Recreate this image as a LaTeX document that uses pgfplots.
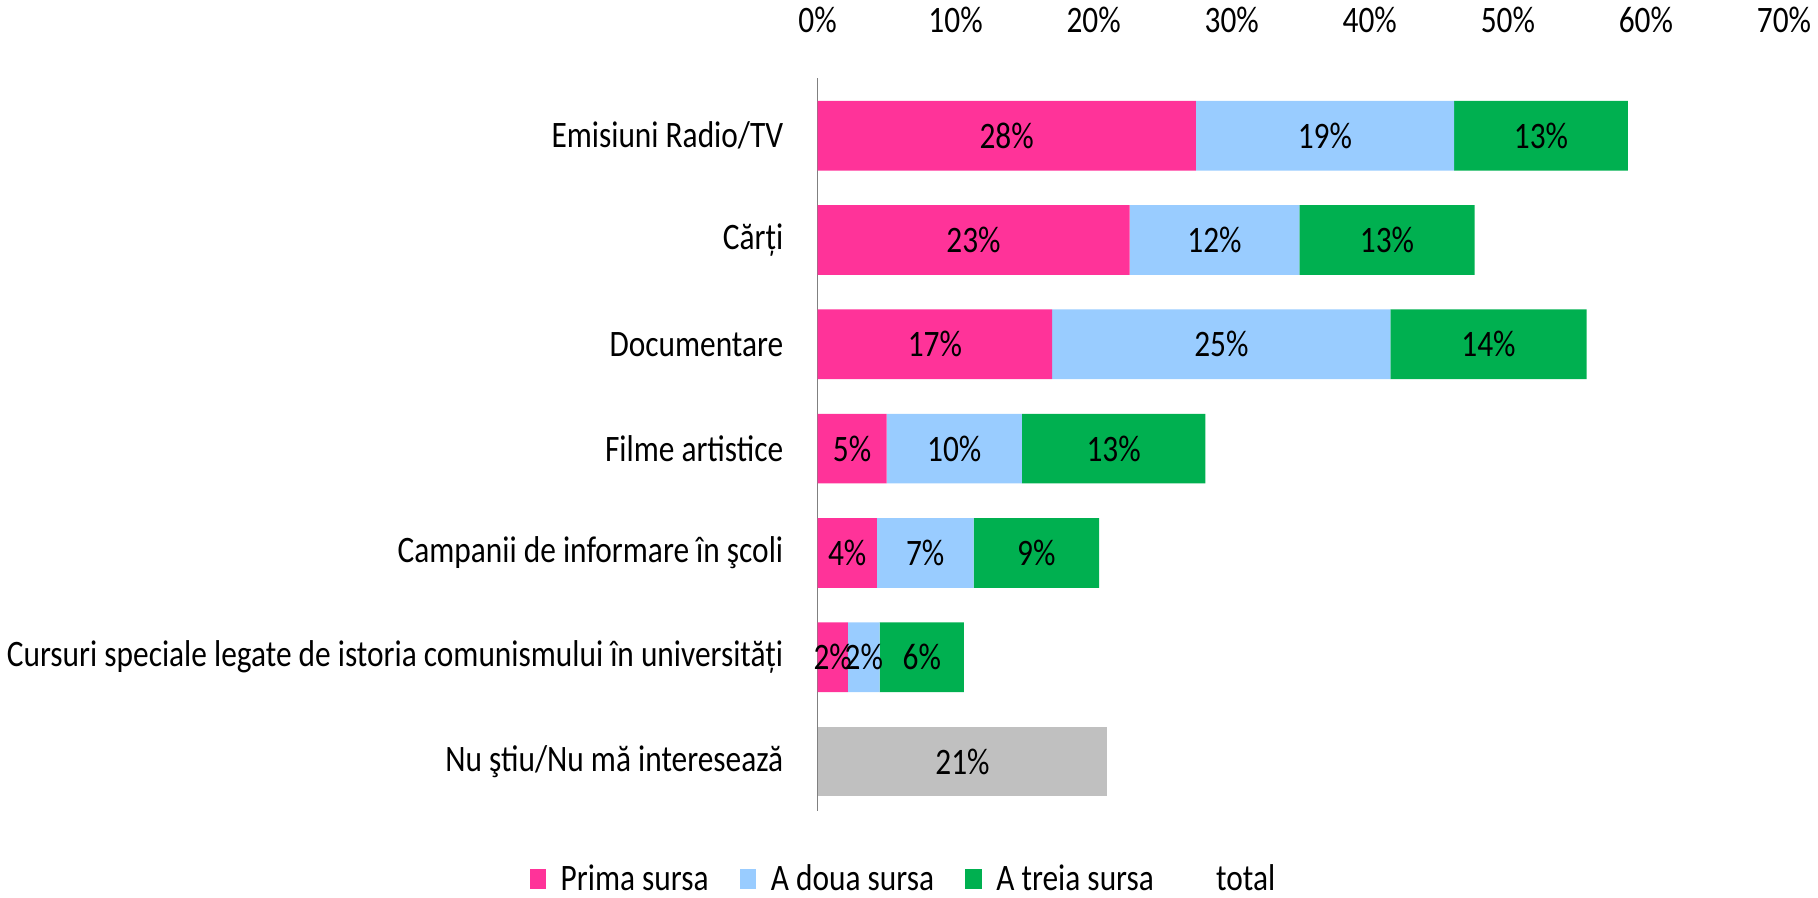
\documentclass[border=0pt]{standalone}
\usepackage{fontspec}
\setmainfont{Carlito}[FakeStretch=0.84]
\usepackage{pgfplots}
\usepackage{pgfplotstable}
\pgfplotsset{compat=1.18}

\definecolor{cpink}{HTML}{FF3399}
\definecolor{cblue}{HTML}{99CCFF}
\definecolor{cgreen}{HTML}{00B050}
\definecolor{cgray}{HTML}{C0C0C0}

% row, prima, a doua, a treia, rounded labels
\pgfplotstableread{
row p    b    g    pl bl gl
1   27.4 18.7 12.6 28 19 13
2   22.6 12.3 12.7 23 12 13
3   17.0 24.5 14.2 17 25 14
4   5.0  9.8  13.3 5  10 13
5   4.3  7.0  9.1  4  7  9
6   2.2  2.3  6.1  2  2  6
}\sources
\pgfplotstableread{
row t    tl
7   21.0 21
}\nustiu

\pgfplotsset{
  base/.style={
    width=466pt, height=353pt, scale only axis,
    xmin=0, xmax=70, ymin=0.45, ymax=7.47,
    y dir=reverse,
    bar width=33.6pt,
    /pgf/number format/assume math mode=true,
  },
  seglabel/.style={
    point meta=explicit,
    nodes near coords={\pgfmathprintnumber{\pgfplotspointmeta}\%},
    every node near coord/.append style={anchor=center, text=black},
  },
}

\begin{document}
\begin{tikzpicture}[font=\fontsize{18}{21}\selectfont]
\begin{axis}[base,
    xbar stacked,
    axis x line*=top,
    axis y line*=left,
    x axis line style={draw=none},
    y axis line style={draw=gray, line width=0.8pt},
    xtick={0,10,...,70},
    xticklabels={0\%,10\%,20\%,30\%,40\%,50\%,60\%,70\%},
    major tick length=0pt,
    xticklabel style={yshift=18.5pt},
    ytick={1,...,7},
    yticklabels={Emisiuni Radio/TV, Cărți, Documentare, Filme artistice,
      Campanii de informare în şcoli,
      Cursuri speciale legate de istoria comunismului în universități,
      Nu ştiu/Nu mă interesează},
    yticklabel style={xshift=-13pt},
    legend style={at={(0.09,-0.0935)}, anchor=center, draw=none,
      inner sep=0pt, legend columns=4,
      /tikz/every odd column/.append style={column sep=5pt},
      /tikz/every even column/.append style={column sep=13pt}},
    legend image code/.code={\fill[#1] (0pt,-5pt) rectangle (8pt,5pt);},
]
\addplot[fill=cpink, draw=none, seglabel] table[x=p, y=row, meta=pl] {\sources};
\addlegendentry{Prima sursa}
\addplot[fill=cblue, draw=none, seglabel] table[x=b, y=row, meta=bl] {\sources};
\addlegendentry{A doua sursa}
\addplot[fill=cgreen, draw=none, seglabel] table[x=g, y=row, meta=gl] {\sources};
\addlegendentry{A treia sursa}
\addlegendimage{draw=none, fill=none,
  legend image code/.code={\path[draw=none, fill=none] (0pt,-5pt) rectangle (8pt,5pt);}}
\addlegendentry{total}
\end{axis}

% "Nu stiu" bar is not part of the stack; its label is pulled back from the
% bar end by half its length (466pt/70/2 = 3.329pt per unit)
\begin{axis}[base, xbar, axis lines=none, xtick=\empty, ytick=\empty]
\addplot[fill=cgray, draw=none, seglabel,
  every node near coord/.append code={%
    \pgfmathfloattofixed{\pgfplotspointmeta}%
    \pgfkeysalso{/tikz/xshift=-\pgfmathresult*3.329pt}}]
  table[x=t, y=row, meta=tl] {\nustiu};
\end{axis}
\end{tikzpicture}
\end{document}
